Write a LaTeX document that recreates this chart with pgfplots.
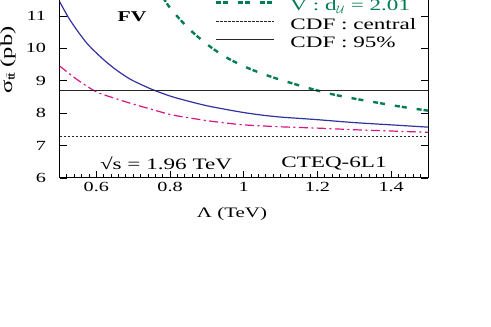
\documentclass[border=0pt]{standalone}
\usepackage{pgfplots}
\pgfplotsset{compat=1.18}
\usepackage{fontspec}
\setmainfont{Liberation Serif}[FakeStretch=1.45]
\definecolor{cblue}{RGB}{50,50,160}
\definecolor{cmag}{RGB}{215,20,130}
\definecolor{cgreen}{RGB}{0,125,85}

\begin{document}
\begin{tikzpicture}
\useasboundingbox (0,0) rectangle (491bp,327bp);
\clip (0,0) rectangle (491bp,327bp);
\begin{axis}[
    at={(59.5bp,149bp)}, anchor=south west,
    scale only axis, width=368.5bp, height=226.8bp,
    xmin=0.5, xmax=1.5, ymin=6, ymax=13,
    xtick={0.6,0.8,1,1.2,1.4},
    minor xtick={0.52,0.54,0.56,0.58,0.62,0.64,0.66,0.68,0.7,0.72,0.74,0.76,0.78,
                 0.82,0.84,0.86,0.88,0.9,0.92,0.94,0.96,0.98,1.02,1.04,1.06,1.08,1.1,
                 1.12,1.14,1.16,1.18,1.22,1.24,1.26,1.28,1.3,1.32,1.34,1.36,1.38,
                 1.42,1.44,1.46,1.48},
    ytick={6,7,8,9,10,11},
    xtick pos=left, ytick pos=both,
    tick align=inside,
    major tick length=7bp, minor tick length=3.5bp,
    axis line style={line width=1bp},
    every tick/.style={black, line width=0.8bp},
    /pgf/number format/assume math mode=true,
    tick label style={font=\fontsize{14}{14}\selectfont},
    yticklabel style={xshift=-10bp},
    xticklabel style={yshift=-1bp},
    xlabel={Λ (TeV)},
    every axis x label/.style={at={(rel axis cs:0.468,-0.172)}, anchor=base,
        font=\fontsize{14.5}{14.5}\selectfont},
    legend image code/.code={\draw[#1] (0bp,5bp) -- (58bp,5bp);},
    legend cell align=left,
    legend style={at={(axis cs:0.922,9.889)}, anchor=south west,
        draw=none, fill=none, inner sep=0pt, outer sep=0pt,
        font=\fontsize{16}{18}\selectfont,
        nodes={inner sep=0pt, text height=11bp, text depth=4bp},
        row sep=3.5bp, column sep=15bp},
]
% flavour violating curve (solid blue)
\addplot[cblue, line width=1.2bp, smooth, forget plot] coordinates {
(0.50,11.45) (0.525,10.94) (0.55,10.52) (0.575,10.15) (0.60,9.86) (0.625,9.60)
(0.65,9.37) (0.675,9.17) (0.70,9.00) (0.75,8.74) (0.80,8.53) (0.85,8.37)
(0.90,8.23) (0.95,8.12) (1.00,8.02) (1.05,7.94) (1.10,7.88) (1.15,7.84)
(1.20,7.80) (1.30,7.71) (1.40,7.64) (1.50,7.57)
};
% magenta dash-dot
\addplot[cmag, line width=1.2bp, smooth, forget plot,
    dash pattern=on 9bp off 3.5bp on 2bp off 3.5bp] coordinates {
(0.50,9.46) (0.55,9.02) (0.60,8.66) (0.65,8.46) (0.70,8.28) (0.75,8.12)
(0.80,7.96) (0.85,7.86) (0.90,7.77) (0.95,7.70) (1.00,7.64) (1.10,7.58)
(1.20,7.54) (1.30,7.49) (1.40,7.45) (1.50,7.41)
};
% vector, d_U = 2.01
\addplot[cgreen, line width=2.4bp, smooth,
    dash pattern=on 5bp off 2bp on 5bp off 10bp] coordinates {
(0.75,12.15) (0.77,11.78) (0.80,11.25) (0.85,10.62) (0.90,10.13) (0.95,9.74)
(1.00,9.45) (1.05,9.22) (1.10,9.03) (1.15,8.86) (1.20,8.70) (1.25,8.56)
(1.30,8.45) (1.35,8.35) (1.40,8.25) (1.45,8.16) (1.50,8.08)
};
\addlegendentry{\textcolor{cgreen}{V : d$_{\mathcal{U}}$ = 2.01}}
% CDF central value
\addplot[black!85, line width=0.9bp, dash pattern=on 2.5bp off 1.5bp] coordinates {
(0.5,7.28) (1.5,7.28)
};
\addlegendentry{CDF : central}
% CDF 95% limit
\addplot[black!85, line width=1.2bp] coordinates {(0.5,8.70) (1.5,8.70)};
\addlegendentry{CDF : 95\%}

\node[font=\fontsize{15}{15}\selectfont\bfseries] at (axis cs:0.697,10.97) {FV};
\node[font=\fontsize{16}{16}\selectfont] at (axis cs:0.789,6.46) {√s = 1.96 TeV};
\node[font=\fontsize{16}{16}\selectfont] at (axis cs:1.245,6.46) {CTEQ-6L1};
\end{axis}
\node[rotate=90, anchor=base, inner sep=0pt, font=\fontsize{17}{17}\selectfont]
    at (12bp,267bp) {σ$_{\mathrm{t}\bar{\mathrm{t}}}$ (pb)};
\end{tikzpicture}
\end{document}
